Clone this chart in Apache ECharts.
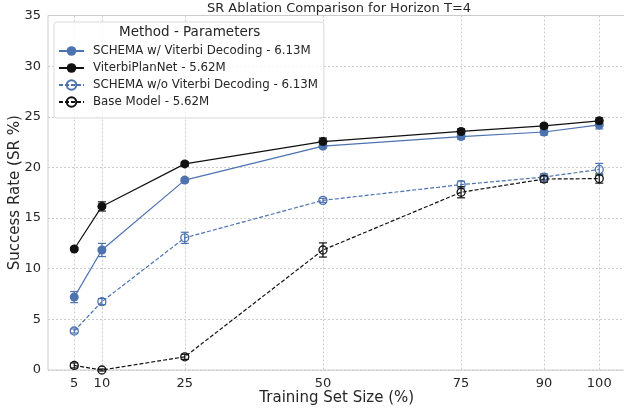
<!DOCTYPE html>
<html>
<head>
<meta charset="utf-8">
<script src="https://cdn.jsdelivr.net/npm/echarts@6/dist/echarts.min.js"></script>
<style>html,body{margin:0;padding:0;background:#fff;}#c{width:624px;height:412px;}</style>
</head>
<body>
<div id="c"></div>
<script>
const xValues = [5, 10, 25, 50, 75, 90, 100];
const xTicks = [5, 10, 25, 50, 75, 90, 100];
const yTicks = [0, 5, 10, 15, 20, 25, 30, 35];

const names = [
  'SCHEMA w/ Viterbi Decoding - 6.13M',
  'ViterbiPlanNet - 5.62M',
  'SCHEMA w/o Viterbi Decoding - 6.13M',
  'Base Model - 5.62M'
];

const schemaWith = [7.2, 11.85, 18.75, 22.1, 23.05, 23.5, 24.2];
const schemaWithErr = [0.55, 0.65, 0.2, 0.2, 0.25, 0.3, 0.4];

const viterbiPlanNet = [11.95, 16.15, 20.35, 22.55, 23.55, 24.1, 24.6];
const viterbiPlanNetErr = [0.15, 0.45, 0.2, 0.35, 0.25, 0.2, 0.3];

const schemaWithout = [3.85, 6.75, 13.05, 16.75, 18.3, 19.05, 19.8];
const schemaWithoutErr = [0.2, 0.3, 0.55, 0.2, 0.35, 0.3, 0.6];

const baseModel = [0.45, 0.0, 1.3, 11.85, 17.55, 18.85, 18.9];
const baseModelErr = [0.25, 0.1, 0.25, 0.7, 0.55, 0.3, 0.45];

const BLUE = '#4c72b0';
const BLACK = '#111111';

function pairs(ys) { return xValues.map((x, i) => [x, ys[i]]); }
function errData(ys, es) { return xValues.map((x, i) => [x, ys[i] - es[i], ys[i] + es[i]]); }

function errSeries(name, ys, es, color) {
  return {
    type: 'custom',
    name: name + ' (error)',
    data: errData(ys, es),
    z: 3,
    silent: true,
    renderItem: function (params, api) {
      const x = api.value(0);
      const lo = api.coord([x, api.value(1)]);
      const hi = api.coord([x, api.value(2)]);
      const cap = 4;
      const style = { stroke: color, lineWidth: 1.2, fill: null };
      return {
        type: 'group',
        children: [
          { type: 'line', shape: { x1: lo[0], y1: lo[1], x2: hi[0], y2: hi[1] }, style: style },
          { type: 'line', shape: { x1: lo[0] - cap, y1: lo[1], x2: lo[0] + cap, y2: lo[1] }, style: style },
          { type: 'line', shape: { x1: hi[0] - cap, y1: hi[1], x2: hi[0] + cap, y2: hi[1] }, style: style }
        ]
      };
    }
  };
}

function lineSeries(name, ys, color, filled, dashed) {
  return {
    type: 'line',
    name: name,
    data: pairs(ys),
    symbol: 'circle',
    symbolSize: filled ? 9 : 8,
    showSymbol: true,
    z: 4,
    lineStyle: { color: color, width: 1.2, type: dashed ? [4, 2] : 'solid' },
    itemStyle: filled ? { color: color, borderWidth: 0 } : { color: 'rgba(255,255,255,0)', borderColor: color, borderWidth: 1.3 },
    emphasis: { disabled: true },
    animation: false
  };
}

const chart = echarts.init(document.getElementById('c'), null, { renderer: 'canvas' });
const font = 'DejaVu Sans';
const textColor = '#262626';

chart.setOption({
  animation: false,
  backgroundColor: '#ffffff',
  textStyle: { fontFamily: font },
  title: {
    text: 'SR Ablation Comparison for Horizon T=4',
    left: 334, textAlign: 'center', top: -3,
    textStyle: { fontFamily: font, fontSize: 13, fontWeight: 'normal', color: textColor }
  },
  grid: {
    left: 48, top: 15.5, width: 577.5, height: 354.5,
    containLabel: false, outerBoundsMode: 'none',
    show: true, borderColor: '#cccccc', borderWidth: 1, backgroundColor: 'transparent'
  },
  legend: {
    data: names,
    orient: 'vertical',
    left: 54, top: 22,
    padding: [23, 6, 10, 4],
    itemGap: 5,
    itemWidth: 25, itemHeight: 12,
    backgroundColor: 'rgba(255,255,255,0.8)',
    borderColor: '#d9d9d9', borderWidth: 1, borderRadius: 3,
    textStyle: { fontFamily: font, fontSize: 11.8, color: textColor, padding: [0, 0, 0, 4] }
  },
  graphic: [{
    type: 'text', left: 119, top: 25, z: 100,
    style: { text: 'Method - Parameters', font: '13.5px "DejaVu Sans"', fill: textColor }
  }],
  xAxis: {
    type: 'value',
    min: 0.25, max: 104.75,
    name: 'Training Set Size (%)', nameLocation: 'middle', nameGap: 21,
    nameMoveOverlap: false,
    nameTextStyle: { fontFamily: font, fontSize: 15, color: textColor },
    axisLine: { show: false },
    axisTick: { show: false, customValues: xTicks },
    axisLabel: { customValues: xTicks, fontFamily: font, fontSize: 13, color: textColor, margin: 7 },
    splitLine: { show: true, lineStyle: { color: '#cccccc', type: [2, 2], width: 1 } }
  },
  yAxis: {
    type: 'value',
    min: 0, max: 35, interval: 5,
    name: 'Success Rate (SR %)', nameLocation: 'middle', nameGap: 25,
    nameMoveOverlap: false,
    nameTextStyle: { fontFamily: font, fontSize: 15, color: textColor },
    axisLine: { show: false },
    axisTick: { show: false },
    axisLabel: { fontFamily: font, fontSize: 13, color: textColor, margin: 7 },
    splitLine: { show: true, lineStyle: { color: '#cccccc', type: [2, 2], width: 1 } }
  },
  series: [
    lineSeries(names[0], schemaWith, BLUE, true, false),
    lineSeries(names[1], viterbiPlanNet, BLACK, true, false),
    lineSeries(names[2], schemaWithout, BLUE, false, true),
    lineSeries(names[3], baseModel, BLACK, false, true),
    errSeries(names[0], schemaWith, schemaWithErr, BLUE),
    errSeries(names[1], viterbiPlanNet, viterbiPlanNetErr, BLACK),
    errSeries(names[2], schemaWithout, schemaWithoutErr, BLUE),
    errSeries(names[3], baseModel, baseModelErr, BLACK)
  ]
});
</script>
</body>
</html>
